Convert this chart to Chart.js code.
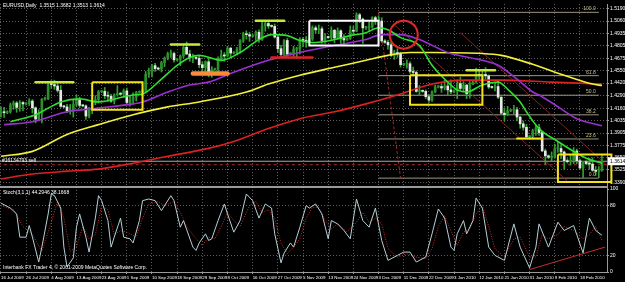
<!DOCTYPE html>
<html>
<head>
<meta charset="utf-8">
<script src="https://cdn.jsdelivr.net/npm/chart.js@4.4.0/dist/chart.umd.min.js"></script>
<style>
  html, body { margin: 0; padding: 0; background: #000; }
  #caja { width: 625px; height: 282px; }
</style>
</head>
<body>
<div id="caja"><canvas id="grafico"></canvas></div>
<script>
// barras diarias EURUSD (incluye las barras de domingo), 8 barras por fila
const opens = [
  1.4110,1.4120,1.4115,1.4125,1.4195,1.4215,1.4170,1.4220,
  1.4205,1.4210,1.4235,1.4165,1.4050,1.4110,1.4255,1.4260,
  1.4410,1.4405,1.4390,1.4345,1.4180,1.4175,1.4135,1.4135,
  1.4200,1.4245,1.4190,1.4185,1.4080,1.4160,1.4225,1.4250,
  1.4330,1.4335,1.4290,1.4285,1.4235,1.4300,1.4310,1.4305,
  1.4340,1.4220,1.4245,1.4275,1.4325,1.4330,1.4335,1.4510,
  1.4535,1.4600,1.4570,1.4565,1.4630,1.4680,1.4720,1.4725,
  1.4660,1.4665,1.4700,1.4790,1.4720,1.4680,1.4680,1.4675,
  1.4610,1.4580,1.4640,1.4530,1.4560,1.4565,1.4670,1.4710,
  1.4700,1.4780,1.4730,1.4735,1.4770,1.4860,1.4930,1.4920,
  1.4905,1.4910,1.4945,1.4870,1.5010,1.5035,1.5010,1.5005,
  1.4895,1.4775,1.4715,1.4860,1.4720,1.4725,1.4770,1.4770,
  1.4870,1.4860,1.4850,1.4875,1.4990,1.4970,1.4980,1.4860,
  1.4895,1.4890,1.4965,1.4885,1.4960,1.4880,1.4865,1.4880,
  1.4965,1.4955,1.5125,1.5080,1.4990,1.4995,1.5000,1.5095,
  1.5060,1.5060,1.4855,1.4840,1.4815,1.4705,1.4735,1.4720,
  1.4610,1.4615,1.4620,1.4540,1.4530,1.4335,1.4340,1.4335,
  1.4280,1.4245,1.4330,1.4380,1.4385,1.4370,1.4390,1.4350,
  1.4330,1.4340,1.4415,1.4365,1.4400,1.4310,1.4410,1.4430,
  1.4510,1.4500,1.4510,1.4495,1.4380,1.4375,1.4385,1.4275,
  1.4110,1.4095,1.4135,1.4140,1.4145,1.4070,1.4000,1.3965,
  1.3865,1.3870,1.3930,1.3960,1.3910,1.3720,1.3670,1.3655,
  1.3660,1.3745,1.3745,1.3710,1.3620,1.3610,1.3625,1.3720,
  1.3620,1.3545,1.3610,1.3590,1.3585,1.3520,1.3510,1.3515
];
const highs = [
  1.4175,1.4170,1.4135,1.4215,1.4235,1.4230,1.4240,1.4230,
  1.4220,1.4260,1.4250,1.4175,1.4145,1.4260,1.4275,1.4425,
  1.4445,1.4450,1.4415,1.4395,1.4190,1.4200,1.4200,1.4250,
  1.4295,1.4275,1.4200,1.4195,1.4170,1.4235,1.4290,1.4345,
  1.4345,1.4375,1.4330,1.4305,1.4310,1.4395,1.4325,1.4360,
  1.4370,1.4290,1.4320,1.4335,1.4340,1.4360,1.4540,1.4575,
  1.4615,1.4625,1.4585,1.4645,1.4690,1.4740,1.4760,1.4740,
  1.4675,1.4710,1.4800,1.4845,1.4760,1.4720,1.4690,1.4700,
  1.4640,1.4650,1.4680,1.4590,1.4575,1.4690,1.4760,1.4735,
  1.4800,1.4790,1.4745,1.4790,1.4870,1.4945,1.4960,1.4945,
  1.4920,1.4960,1.4970,1.5060,1.5050,1.5065,1.5020,1.5030,
  1.4910,1.4810,1.4870,1.4880,1.4735,1.4800,1.4790,1.4890,
  1.4890,1.4900,1.4880,1.5010,1.5010,1.5020,1.5000,1.4930,
  1.4905,1.5000,1.4975,1.4990,1.4970,1.4920,1.4885,1.5010,
  1.5005,1.5145,1.5140,1.5090,1.5005,1.5050,1.5105,1.5110,
  1.5115,1.5095,1.4870,1.4860,1.4840,1.4760,1.4775,1.4740,
  1.4625,1.4660,1.4640,1.4585,1.4545,1.4395,1.4350,1.4350,
  1.4300,1.4340,1.4400,1.4395,1.4410,1.4450,1.4410,1.4455,
  1.4350,1.4455,1.4480,1.4435,1.4405,1.4435,1.4440,1.4575,
  1.4555,1.4555,1.4580,1.4505,1.4390,1.4415,1.4450,1.4280,
  1.4165,1.4180,1.4150,1.4190,1.4170,1.4075,1.4030,1.3995,
  1.3880,1.3945,1.3985,1.3995,1.3920,1.3740,1.3680,1.3710,
  1.3790,1.3815,1.3785,1.3720,1.3640,1.3680,1.3755,1.3740,
  1.3640,1.3610,1.3620,1.3645,1.3650,1.3560,1.3560,1.3682
];
const lows = [
  1.4070,1.4065,1.4105,1.4110,1.4150,1.4120,1.4130,1.4135,
  1.4195,1.4190,1.4110,1.4010,1.4040,1.4010,1.4245,1.4250,
  1.4365,1.4355,1.4325,1.4170,1.4165,1.4115,1.4100,1.4070,
  1.4180,1.4165,1.4175,1.4045,1.4060,1.4105,1.4195,1.4215,
  1.4320,1.4260,1.4230,1.4220,1.4205,1.4285,1.4295,1.4270,
  1.4200,1.4185,1.4205,1.4235,1.4315,1.4300,1.4320,1.4480,
  1.4485,1.4540,1.4555,1.4535,1.4590,1.4660,1.4685,1.4635,
  1.4650,1.4600,1.4680,1.4715,1.4645,1.4630,1.4665,1.4580,
  1.4520,1.4540,1.4485,1.4480,1.4550,1.4530,1.4650,1.4645,
  1.4690,1.4690,1.4720,1.4710,1.4730,1.4840,1.4875,1.4850,
  1.4895,1.4860,1.4840,1.4860,1.4955,1.4985,1.4995,1.4885,
  1.4735,1.4700,1.4705,1.4695,1.4710,1.4690,1.4680,1.4720,
  1.4795,1.4790,1.4845,1.4860,1.4935,1.4930,1.4830,1.4830,
  1.4880,1.4870,1.4835,1.4875,1.4830,1.4820,1.4860,1.4870,
  1.4910,1.4950,1.5045,1.4830,1.4975,1.4950,1.4985,1.5025,
  1.5020,1.4840,1.4830,1.4770,1.4695,1.4665,1.4685,1.4585,
  1.4600,1.4575,1.4520,1.4495,1.4325,1.4290,1.4325,1.4260,
  1.4220,1.4230,1.4320,1.4370,1.4325,1.4350,1.4290,1.4310,
  1.4320,1.4260,1.4345,1.4330,1.4260,1.4265,1.4405,1.4420,
  1.4455,1.4430,1.4460,1.4365,1.4365,1.4340,1.4260,1.4100,
  1.4030,1.4085,1.4125,1.4105,1.4030,1.3955,1.3935,1.3860,
  1.3855,1.3855,1.3880,1.3880,1.3715,1.3580,1.3640,1.3620,
  1.3645,1.3705,1.3640,1.3530,1.3595,1.3575,1.3590,1.3590,
  1.3530,1.3445,1.3580,1.3530,1.3510,1.3470,1.3445,1.3513
];
const closes = [
  1.4120,1.4115,1.4125,1.4195,1.4215,1.4170,1.4220,1.4205,
  1.4210,1.4235,1.4165,1.4050,1.4110,1.4255,1.4260,1.4410,
  1.4405,1.4390,1.4345,1.4180,1.4175,1.4135,1.4135,1.4200,
  1.4245,1.4190,1.4185,1.4080,1.4160,1.4225,1.4250,1.4330,
  1.4335,1.4290,1.4285,1.4235,1.4300,1.4310,1.4305,1.4340,
  1.4220,1.4245,1.4275,1.4325,1.4330,1.4335,1.4510,1.4535,
  1.4600,1.4570,1.4565,1.4630,1.4680,1.4720,1.4725,1.4660,
  1.4665,1.4700,1.4790,1.4720,1.4680,1.4680,1.4675,1.4610,
  1.4580,1.4640,1.4530,1.4560,1.4565,1.4670,1.4710,1.4700,
  1.4780,1.4730,1.4735,1.4770,1.4860,1.4930,1.4920,1.4905,
  1.4910,1.4945,1.4870,1.5010,1.5035,1.5010,1.5005,1.4895,
  1.4775,1.4715,1.4860,1.4720,1.4725,1.4770,1.4770,1.4870,
  1.4860,1.4850,1.4875,1.4990,1.4970,1.4980,1.4860,1.4895,
  1.4890,1.4965,1.4885,1.4960,1.4880,1.4865,1.4880,1.4965,
  1.4955,1.5125,1.5080,1.4990,1.4995,1.5000,1.5095,1.5060,
  1.5060,1.4855,1.4840,1.4815,1.4705,1.4735,1.4720,1.4610,
  1.4615,1.4620,1.4540,1.4530,1.4335,1.4340,1.4335,1.4280,
  1.4245,1.4330,1.4380,1.4385,1.4370,1.4390,1.4350,1.4330,
  1.4340,1.4415,1.4365,1.4400,1.4310,1.4410,1.4430,1.4510,
  1.4500,1.4510,1.4495,1.4380,1.4375,1.4385,1.4275,1.4110,
  1.4095,1.4135,1.4140,1.4145,1.4070,1.4000,1.3965,1.3865,
  1.3870,1.3930,1.3960,1.3910,1.3720,1.3670,1.3655,1.3660,
  1.3745,1.3745,1.3710,1.3620,1.3610,1.3625,1.3720,1.3620,
  1.3545,1.3610,1.3590,1.3585,1.3520,1.3510,1.3515,1.3614
];

// medias moviles: [barra, precio]
const maVerde = [[3,1.4022],[11,1.4094],[19,1.4226],[25,1.4257],[31,1.4226],[42,1.4298],[45,1.4308],[51,1.4461],[56,1.4604],[60,1.4685],[63,1.4706],[70,1.4655],[76,1.4736],[82,1.4869],[86,1.4920],[91,1.4910],[95,1.4859],[99,1.4838],[106,1.4869],[111,1.4910],[116,1.4940],[120,1.4991],[123,1.4971],[127,1.4889],[133,1.4808],[137,1.4604],[142,1.4430],[145,1.4349],[148,1.4328],[153,1.4400],[158,1.4430],[161,1.4359],[165,1.4226],[167,1.4124],[171,1.3951],[177,1.3818],[182,1.3716],[186,1.3645],[191,1.3594]];
const maVioleta = [[1,1.3992],[10,1.4022],[21,1.4124],[29,1.4155],[42,1.4206],[45,1.4226],[53,1.4328],[60,1.4400],[66,1.4430],[74,1.4532],[85,1.4655],[95,1.4736],[106,1.4808],[116,1.4869],[121,1.4920],[127,1.4920],[133,1.4869],[142,1.4736],[153,1.4655],[158,1.4604],[164,1.4461],[169,1.4328],[171,1.4298],[178,1.4155],[183,1.4053],[191,1.3980]];
const maAmarilla = [[0,1.3665],[10,1.3716],[21,1.3890],[31,1.3992],[42,1.4094],[53,1.4175],[63,1.4226],[78,1.4328],[85,1.4410],[95,1.4502],[106,1.4583],[116,1.4655],[123,1.4706],[130,1.4736],[137,1.4736],[153,1.4726],[159,1.4706],[169,1.4614],[178,1.4512],[188,1.4410],[191,1.4395]];
const maRoja = [[0,1.3431],[10,1.3482],[21,1.3512],[31,1.3533],[42,1.3594],[53,1.3665],[66,1.3747],[74,1.3818],[85,1.3951],[95,1.4053],[106,1.4124],[116,1.4206],[127,1.4308],[137,1.4410],[148,1.4451],[159,1.4451],[175,1.4430],[191,1.4410]];

// estocastico: [barra, valor]
const stochMain = [[0,83],[3,77],[5,70],[6,42],[8,42],[9,56],[10,42],[12,12],[13,30],[15,70],[16,94],[17,92],[19,77],[20,30],[21,6],[23,17],[24,54],[25,70],[27,42],[28,24],[30,65],[31,92],[32,86],[34,62],[35,30],[36,42],[38,65],[39,42],[41,40],[42,35],[44,62],[45,86],[47,88],[49,86],[51,74],[54,92],[55,86],[57,54],[58,62],[61,30],[62,26],[63,35],[65,46],[66,38],[67,40],[69,62],[71,82],[72,70],[74,48],[76,62],[78,94],[80,86],[82,65],[84,82],[86,77],[87,46],[89,11],[90,23],[92,35],[93,30],[95,54],[97,80],[98,77],[100,82],[102,70],[104,40],[105,62],[107,58],[109,50],[111,40],[113,88],[115,62],[117,54],[119,77],[121,38],[123,14],[126,20],[128,24],[130,24],[132,12],[135,18],[137,46],[139,76],[141,65],[143,30],[144,26],[145,46],[147,62],[148,46],[150,62],[151,89],[153,77],[155,30],[157,20],[160,14],[163,58],[165,30],[168,5],[170,30],[171,58],[174,30],[177,60],[179,50],[182,56],[185,23],[187,65],[189,50],[191,44.2946]];
const stochSignal = [[0,80],[4,75],[7,55],[10,45],[13,25],[16,60],[18,85],[20,65],[22,25],[24,30],[26,55],[28,40],[30,45],[32,80],[34,75],[36,45],[38,50],[40,48],[43,42],[45,65],[47,82],[50,85],[52,80],[55,85],[57,72],[59,55],[62,40],[64,32],[66,42],[68,40],[70,55],[72,72],[74,62],[76,55],[79,80],[81,85],[83,72],[85,75],[87,65],[89,35],[91,22],[93,30],[95,40],[97,65],[99,78],[101,78],[103,62],[105,52],[107,58],[110,48],[113,60],[115,72],[117,60],[119,65],[121,58],[123,28],[126,18],[129,22],[132,18],[135,16],[137,28],[139,55],[141,68],[143,50],[145,32],[147,48],[149,52],[151,70],[153,80],[155,55],[157,28],[160,18],[163,40],[165,42],[168,18],[170,18],[172,45],[174,40],[177,45],[179,55],[182,50],[185,40],[187,45],[189,55],[191,38.1668]];
const stochTrend = [[168,3],[192,30]];

// ejes
const dateLabels = ["16 Jul 2009","26 Jul 2009","4 Aug 2009","13 Aug 2009","23 Aug 2009","1 Sep 2009","10 Sep 2009","18 Sep 2009","29 Sep 2009","8 Oct 2009","16 Oct 2009","27 Oct 2009","5 Nov 2009","13 Nov 2009","24 Nov 2009","3 Dec 2009","11 Dec 2009","22 Dec 2009","3 Jan 2010","12 Jan 2010","21 Jan 2010","31 Jan 2010","9 Feb 2010","18 Feb 2010"];
const priceTicks = [1.5190,1.5060,1.4935,1.4805,1.4675,1.4550,1.4420,1.4290,1.4160,1.4035,1.3905,1.3775,1.3650,1.3525,1.3390];
const stochTicks = [0,20,80,100];

// objetos dibujados sobre el grafico
const fibLevels = [1.5150,1.4497,1.4295,1.4093,1.3844,1.3440];
const fibNames = ["100.0","61.8","50.0","38.2","23.6","0.0"];
const fibRange = [120,190];
const fibDiagonal = [[120,1.5150],[127,1.3440]];
const canalA = [[125,1.5022],[180,1.3410]];
const canalB = [[146,1.4940],[192,1.3590]];
// cajas: [barra desde, barra hasta, precio arriba, precio abajo]
const cajasAmarillas = [[29,45,1.4430,1.4145],[130,153,1.4502,1.4196],[177,194,1.3685,1.3400]];
const cajaBlanca = [98,120,1.5062,1.4808];
// marcas horizontales: [barra desde, barra hasta, precio]
const marcasLima = [[11,23,1.4430],[54,63,1.4818],[81,90,1.5062],[148,157,1.4553]];
const marcaAmarilla = [164,172,1.3848];
const marcaRoja = [86,99,1.4685];
const marcaNaranja = [61,72,1.4520];
const circulo = [128,1.4920];
const precioActual = 1.3614;
const ordenVenta = 1.3578;

const titulo = "EURUSD,Daily  1.3515 1.3682 1.3513 1.3614";
const tituloStoch = "Stoch(3,1,1) 44.2946 38.1668";
const pie = "Interbank FX Trader 4, \u00a9 2001-2009 MetaQuotes Software Corp.";
const textoOrden = "#16134793 sell";

const FUENTE = '"Liberation Sans", Arial, sans-serif';
const TAM = 5;
const GRID = '#5e5e5e';

const pts = pares => pares.map(p => ({ x: p[0], y: p[1] }));
const linea = (pares, color, ancho, extra) => Object.assign({
  type: 'line', data: pts(pares), borderColor: color, borderWidth: ancho,
  pointRadius: 0, tension: 0, yAxisID: 'y', fill: false
}, extra || {});
const rect = (c, color) => linea([[c[0],c[2]],[c[1],c[2]],[c[1],c[3]],[c[0],c[3]],[c[0],c[2]]], color, 2, { clip: false });
const marca = (m, color, ancho) => linea([[m[0],m[2]],[m[1],m[2]]], color, ancho, { borderCapStyle: 'round' });

const capas = [];
fibLevels.forEach(v => capas.push(linea([[fibRange[0],v],[fibRange[1],v]], '#9c9680', 1)));
capas.push(linea(fibDiagonal, '#9a2a2a', 1, { borderDash: [3,2] }));
capas.push(linea(canalA, '#7a2424', 1));
capas.push(linea(canalB, '#7a2424', 1));
capas.push(linea([[-1,precioActual],[193,precioActual]], '#a8a8a8', 1));
capas.push(linea([[-1,ordenVenta],[193,ordenVenta]], '#a83030', 1, { borderDash: [3,3] }));
capas.push({
  type: 'bar', yAxisID: 'y', grouped: false, barThickness: 1,
  data: highs.map((h, i) => ({ x: i, y: [lows[i], h] })),
  backgroundColor: '#33a033'
});
capas.push({
  type: 'bar', yAxisID: 'y', grouped: false, barThickness: 2, minBarLength: 1,
  data: opens.map((o, i) => ({ x: i, y: [Math.min(o, closes[i]), Math.max(o, closes[i])] })),
  backgroundColor: opens.map((o, i) => closes[i] >= o ? '#2c8f2c' : '#e8e8e8')
});
capas.push(linea(maRoja, '#dd2020', 1.6, { cubicInterpolationMode: 'monotone' }));
capas.push(linea(maAmarilla, '#f2f03a', 1.6, { cubicInterpolationMode: 'monotone' }));
capas.push(linea(maVioleta, '#9a30d0', 1.6, { cubicInterpolationMode: 'monotone' }));
capas.push(linea(maVerde, '#30e030', 1.6, { cubicInterpolationMode: 'monotone' }));
cajasAmarillas.forEach(c => capas.push(rect(c, '#f4e21a')));
capas.push(rect(cajaBlanca, '#ffffff'));
marcasLima.forEach(m => capas.push(marca(m, '#c6e83a', 2.5)));
capas.push(marca(marcaAmarilla, '#f4e81a', 2));
capas.push(marca(marcaRoja, '#e02020', 2.5));
capas.push(marca(marcaNaranja, '#ff8a3a', 4.5));
capas.push({
  type: 'scatter', yAxisID: 'y', data: [{ x: circulo[0], y: circulo[1] }],
  pointRadius: 14, pointBorderWidth: 2, pointBorderColor: '#e22828',
  pointBackgroundColor: 'rgba(0,0,0,0)', clip: false
});
capas.push(linea(stochTrend, '#c03030', 1, { yAxisID: 'ys' }));
capas.push(linea(stochSignal, '#c03030', 1, { yAxisID: 'ys', borderDash: [1,1.5] }));
capas.push(linea(stochMain, '#b6cfd6', 1, { yAxisID: 'ys' }));

// el primero queda abajo
const datasets = capas.map((d, i) => Object.assign(d, { order: capas.length - i }));

const textos = {
  id: 'textos',
  afterDatasetsDraw(chart) {
    const { ctx, scales: { x, y, ys }, chartArea } = chart;
    ctx.save();
    ctx.font = TAM + 'px ' + FUENTE;
    // separador de paneles
    ctx.strokeStyle = '#9a9a9a';
    ctx.lineWidth = 2;
    ctx.beginPath();
    ctx.moveTo(chartArea.left, ys.top);
    ctx.lineTo(chartArea.right, ys.top);
    ctx.stroke();
    // etiquetas fibo
    ctx.fillStyle = '#c9c08a';
    ctx.textAlign = 'right';
    ctx.textBaseline = 'bottom';
    fibLevels.forEach((v, i) => {
      ctx.fillText(fibNames[i], x.getPixelForValue(fibRange[1] - 1), y.getPixelForValue(v) - 1);
    });
    // textos
    ctx.fillStyle = '#ffffff';
    ctx.textAlign = 'left';
    ctx.textBaseline = 'top';
    ctx.fillText(titulo, 3, 3);
    ctx.fillText(tituloStoch, 3, ys.top + 3);
    ctx.fillText(pie, 3, chartArea.bottom - 7);
    ctx.textBaseline = 'bottom';
    ctx.fillText(textoOrden, 2, y.getPixelForValue(ordenVenta) - 2);
    // precio actual en el eje
    const py = y.getPixelForValue(precioActual);
    ctx.fillStyle = '#ffffff';
    ctx.fillRect(chartArea.right + 1, py - 4, 18, 8);
    ctx.fillStyle = '#000000';
    ctx.textBaseline = 'middle';
    ctx.fillText(precioActual.toFixed(4), chartArea.right + 3, py);
    ctx.restore();
  }
};

new Chart(document.getElementById('grafico'), {
  type: 'line',
  data: { datasets },
  options: {
    responsive: true,
    maintainAspectRatio: false,
    animation: false,
    events: [],
    layout: { autoPadding: false, padding: { top: 1, left: 0, right: 0, bottom: 0 } },
    plugins: { legend: { display: false }, tooltip: { enabled: false } },
    scales: {
      x: {
        type: 'linear', position: 'bottom', min: -0.3, max: 192.6, offset: false,
        afterBuildTicks: s => { s.ticks = dateLabels.map((_, i) => ({ value: i * 8 })); },
        afterFit: s => { s.height = 10; s.paddingLeft = 0; s.paddingRight = 0; },
        ticks: {
          callback: (v, i) => dateLabels[i], align: 'start', maxRotation: 0, autoSkip: false,
          color: '#ffffff', font: { size: 4.4, family: FUENTE }, padding: 1
        },
        grid: { offset: false, color: GRID, tickColor: '#9a9a9a', tickLength: 2 },
        border: { color: '#9a9a9a', dash: [1, 2] }
      },
      y: {
        type: 'linear', position: 'right', stack: 'panel', stackWeight: 185,
        min: 1.3349, max: 1.5236, beginAtZero: false,
        afterBuildTicks: s => { s.ticks = priceTicks.map(v => ({ value: v })); },
        afterFit: s => { s.width = 18; },
        ticks: {
          callback: v => v.toFixed(4), autoSkip: false,
          color: '#ffffff', font: { size: TAM, family: FUENTE }, padding: 1
        },
        grid: { color: GRID, tickColor: '#9a9a9a', tickLength: 2 },
        border: { color: '#9a9a9a', dash: [1, 2] }
      },
      ys: {
        type: 'linear', position: 'right', stack: 'panel', stackWeight: 86,
        min: 0, max: 102.5,
        afterBuildTicks: s => { s.ticks = stochTicks.map(v => ({ value: v })); },
        afterFit: s => { s.width = 18; },
        ticks: {
          callback: v => String(v), autoSkip: false,
          color: '#ffffff', font: { size: TAM, family: FUENTE }, padding: 1
        },
        grid: {
          color: c => (c.tick && (c.tick.value === 20 || c.tick.value === 80)) ? GRID : 'rgba(0,0,0,0)',
          tickColor: '#9a9a9a', tickLength: 2
        },
        border: { color: '#9a9a9a', dash: [1, 2] }
      }
    }
  },
  plugins: [textos]
});
</script>
</body>
</html>
